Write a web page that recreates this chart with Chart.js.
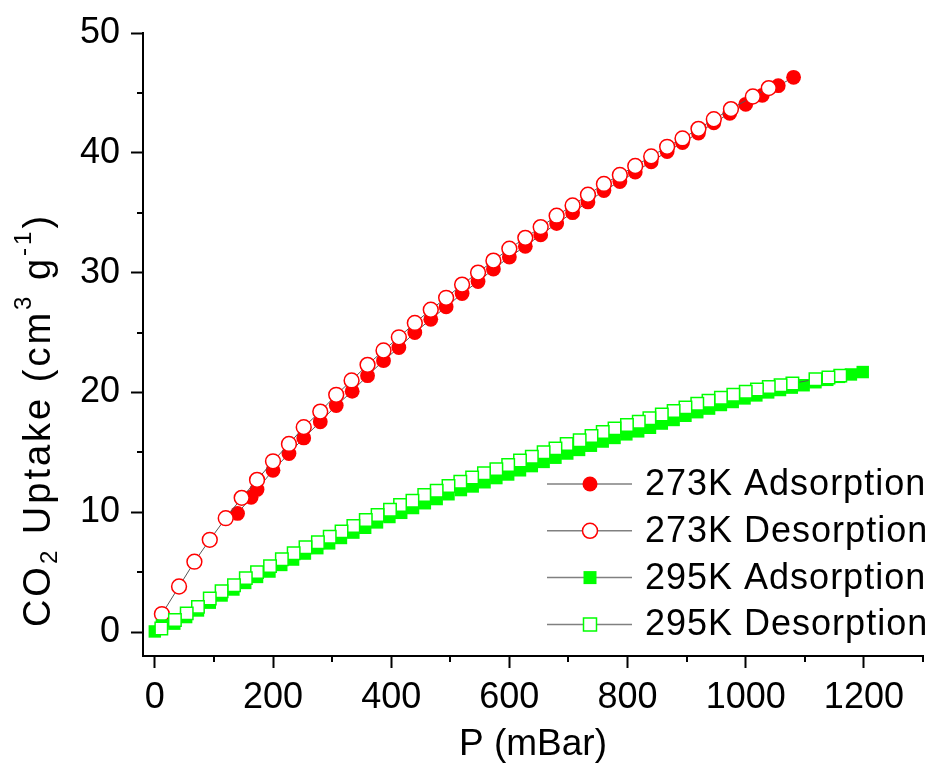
<!DOCTYPE html>
<html>
<head>
<meta charset="utf-8">
<title>CO2 uptake isotherms</title>
<script src="https://cdn.jsdelivr.net/npm/chart.js@4.4.1/dist/chart.umd.min.js"></script>
<style>
  html, body { margin: 0; padding: 0; background: #fff; }
  #wrap { width: 934px; height: 768px; position: relative; }
</style>
</head>
<body>
<div id="wrap"><canvas id="myChart"></canvas></div>
<script>
"use strict";

// 273 K branches: pressure (mBar) / uptake (cm3 g-1)
const ads273P = [140, 163, 173, 200, 227, 252, 280, 307, 334, 360, 387, 413, 440, 467, 493, 520, 547, 573, 600, 627, 653, 680, 707, 733, 760, 787, 813, 840, 867, 893, 920, 946, 973, 1000, 1028, 1055, 1081];
const ads273Q = [9.9, 11.25, 11.9, 13.5, 14.9, 16.2, 17.55, 18.9, 20.1, 21.4, 22.65, 23.75, 25.0, 26.1, 27.15, 28.25, 29.25, 30.3, 31.3, 32.2, 33.15, 34.1, 35.0, 35.9, 36.85, 37.6, 38.4, 39.25, 40.1, 40.85, 41.65, 42.5, 43.3, 44.05, 44.8, 45.6, 46.3];
const des273P = [1039, 1012, 975, 946, 920, 893, 867, 840, 813, 787, 760, 733, 707, 680, 653, 627, 600, 573, 547, 520, 493, 467, 440, 413, 387, 360, 333, 307, 280, 252, 227, 200, 173, 147, 120, 93, 67, 41, 12];
const des273Q = [45.4, 44.7, 43.65, 42.8, 42.0, 41.2, 40.5, 39.7, 38.9, 38.15, 37.4, 36.5, 35.6, 34.75, 33.8, 32.9, 32.0, 31.0, 30.0, 29.0, 27.9, 26.9, 25.8, 24.6, 23.5, 22.3, 21.0, 19.8, 18.4, 17.1, 15.7, 14.25, 12.7, 11.2, 9.5, 7.7, 5.87, 3.8, 1.5];

// 295 K branches
const ads295P = [0, 12, 33, 53, 73, 93, 113, 133, 153, 173, 194, 214, 234, 254, 275, 295, 315, 336, 356, 376, 397, 417, 437, 457, 477, 497, 518, 538, 558, 578, 598, 618, 638, 658, 678, 698, 718, 738, 758, 778, 798, 818, 838, 858, 878, 898, 918, 938, 958, 978, 998, 1018, 1038, 1058, 1078, 1098, 1118, 1138, 1158, 1178, 1198];
const ads295Q = [0.05, 0.55, 0.7, 1.25, 1.8, 2.45, 3.05, 3.55, 4.1, 4.6, 5.05, 5.6, 6.05, 6.55, 7.0, 7.4, 7.85, 8.3, 8.7, 9.15, 9.6, 9.95, 10.35, 10.75, 11.1, 11.5, 11.85, 12.15, 12.5, 12.85, 13.15, 13.5, 13.85, 14.2, 14.55, 14.9, 15.2, 15.55, 15.9, 16.2, 16.5, 16.75, 17.05, 17.4, 17.7, 18.05, 18.35, 18.65, 18.95, 19.2, 19.5, 19.75, 20.0, 20.2, 20.4, 20.6, 20.85, 21.05, 21.3, 21.5, 21.7];
const des295P = [1160, 1140, 1118, 1079, 1059, 1039, 1019, 1000, 979, 958, 937, 918, 898, 878, 858, 837, 819, 799, 778, 758, 739, 719, 697, 678, 658, 638, 618, 598, 578, 557, 537, 517, 497, 477, 456, 436, 415, 398, 377, 357, 336, 316, 296, 276, 255, 235, 215, 195, 173, 154, 134, 113, 93, 73, 54, 34, 11];
const des295Q = [21.4, 21.25, 21.1, 20.75, 20.6, 20.45, 20.25, 20.05, 19.8, 19.55, 19.3, 19.05, 18.75, 18.45, 18.15, 17.85, 17.55, 17.28, 17.0, 16.7, 16.36, 16.0, 15.7, 15.33, 15.0, 14.63, 14.32, 13.94, 13.6, 13.25, 12.9, 12.55, 12.19, 11.8, 11.44, 10.96, 10.6, 10.2, 9.77, 9.35, 8.85, 8.4, 7.95, 7.5, 7.07, 6.57, 6.07, 5.5, 5.0, 4.5, 3.9, 3.4, 2.8, 2.1, 1.56, 1.0, 0.3];

const seriesNames = ["273K Adsorption", "273K Desorption", "295K Adsorption", "295K Desorption"];
const xLabelTicks = [0, 200, 400, 600, 800, 1000, 1200];
const yLabelTicks = [0, 10, 20, 30, 40, 50];

const FONT = '"Liberation Sans", Arial, sans-serif';
const RED = "#ff0000";
const GREEN = "#00ff00";
const LINE = "#555555";

function toPoints(ps, qs) {
    return ps.map((p, i) => ({ x: p, y: qs[i] }));
}

function series(label, ps, qs, color, style, open, order) {
    return {
        label: label,
        data: toPoints(ps, qs),
        showLine: true,
        borderColor: LINE,
        borderWidth: 1,
        pointStyle: style,
        pointRadius: style === "rect" ? 8.8 : 7.4,
        pointBorderColor: color,
        pointBackgroundColor: open ? "#ffffff" : color,
        pointBorderWidth: open ? 1.5 : 0,
        order: order,
    };
}

// short minor tick marks (major ones come from the scales themselves)
const minorTicks = {
    id: "minorTicks",
    afterDraw(chart) {
        const ctx = chart.ctx;
        const xs = chart.scales.x;
        const ys = chart.scales.y;
        ctx.save();
        ctx.strokeStyle = "#000";
        ctx.lineWidth = 2;
        ctx.beginPath();
        xs.ticks.forEach(t => {
            if (xLabelTicks.includes(t.value)) return;
            const px = Math.round(xs.getPixelForValue(t.value));
            ctx.moveTo(px, xs.top);
            ctx.lineTo(px, xs.top + 6);
        });
        ys.ticks.forEach(t => {
            if (yLabelTicks.includes(t.value)) return;
            const py = Math.round(ys.getPixelForValue(t.value));
            ctx.moveTo(ys.right, py);
            ctx.lineTo(ys.right - 6, py);
        });
        ctx.stroke();
        ctx.restore();
    }
};

// rotated y title with sub/superscripts
const uptakeTitle = {
    id: "uptakeTitle",
    afterDraw(chart) {
        const ctx = chart.ctx;
        const size = 38;
        const parts = [
            ["CO", 0, 1],
            ["2", 7, 0.62],
            [" Uptake (cm", 0, 1],
            ["3", -19, 0.62],
            [" g", 0, 1],
            ["-1", -19, 0.62],
            [")", 0, 1],
        ];
        ctx.save();
        ctx.letterSpacing = "3px";
        let total = 0;
        parts.forEach(p => {
            ctx.font = Math.round(size * p[2]) + "px " + FONT;
            total += ctx.measureText(p[0]).width;
        });
        ctx.translate(50, 420);
        ctx.rotate(-Math.PI / 2);
        ctx.fillStyle = "#000";
        ctx.textBaseline = "alphabetic";
        let x = -total / 2;
        parts.forEach(p => {
            ctx.font = Math.round(size * p[2]) + "px " + FONT;
            ctx.fillText(p[0], x, p[1]);
            x += ctx.measureText(p[0]).width;
        });
        ctx.restore();
    }
};

// legend: grey line with the series marker in the middle
const lineLegend = {
    id: "lineLegend",
    afterDraw(chart) {
        const ctx = chart.ctx;
        ctx.save();
        chart.data.datasets.forEach((ds, i) => {
            const y = 484 + i * 46.8;
            ctx.strokeStyle = "#808080";
            ctx.lineWidth = 1.5;
            ctx.beginPath();
            ctx.moveTo(547, y);
            ctx.lineTo(632, y);
            ctx.stroke();

            ctx.fillStyle = ds.pointBackgroundColor;
            ctx.strokeStyle = ds.pointBorderColor;
            ctx.lineWidth = 1.5;
            ctx.beginPath();
            if (ds.pointStyle === "rect") {
                ctx.rect(590 - 6.5, y - 6.5, 13, 13);
            } else {
                ctx.arc(590, y, 7.5, 0, Math.PI * 2);
            }
            ctx.fill();
            if (ds.pointBorderWidth > 0) ctx.stroke();

            ctx.fillStyle = "#000";
            ctx.font = "36px " + FONT;
            ctx.textBaseline = "middle";
            ctx.letterSpacing = "1px";
            ctx.fillText(ds.label, 645, y + 1);
            ctx.letterSpacing = "0px";
        });
        ctx.restore();
    }
};

const config = {
    type: "scatter",
    data: {
        datasets: [
            series(seriesNames[0], ads273P, ads273Q, RED, "circle", false, 4),
            series(seriesNames[1], des273P, des273Q, RED, "circle", true, 3),
            series(seriesNames[2], ads295P, ads295Q, GREEN, "rect", false, 2),
            series(seriesNames[3], des295P, des295Q, GREEN, "rect", true, 1),
        ],
    },
    options: {
        responsive: true,
        maintainAspectRatio: false,
        animation: false,
        layout: { padding: { top: 33, right: 11, left: 0, bottom: 0 } },
        plugins: {
            legend: { display: false },
            tooltip: { enabled: false },
        },
        scales: {
            x: {
                type: "linear",
                position: "bottom",
                min: -20,
                max: 1300,
                border: { display: true, color: "#000", width: 2 },
                grid: {
                    drawOnChartArea: false,
                    tickLength: 12,
                    tickWidth: 2,
                    tickColor: c => (c.tick && xLabelTicks.includes(c.tick.value)) ? "#000" : "rgba(0,0,0,0)",
                },
                ticks: {
                    stepSize: 100,
                    includeBounds: false,
                    autoSkip: false,
                    maxRotation: 0,
                    padding: 8,
                    color: "#000",
                    font: { family: FONT, size: 36 },
                    callback: v => xLabelTicks.includes(v) ? String(v) : "",
                },
                title: {
                    display: true,
                    text: "P (mBar)",
                    color: "#000",
                    font: { family: FONT, size: 37 },
                    padding: { top: 0, bottom: 1 },
                },
                afterFit: s => { s.height = 112; },
            },
            y: {
                type: "linear",
                min: -2,
                max: 50,
                border: { display: true, color: "#000", width: 2 },
                grid: {
                    drawOnChartArea: false,
                    tickLength: 12,
                    tickWidth: 2,
                    tickColor: c => (c.tick && yLabelTicks.includes(c.tick.value)) ? "#000" : "rgba(0,0,0,0)",
                },
                ticks: {
                    stepSize: 5,
                    includeBounds: false,
                    autoSkip: false,
                    padding: 11,
                    color: "#000",
                    font: { family: FONT, size: 36 },
                    callback: v => yLabelTicks.includes(v) ? String(v) : "",
                },
                afterFit: s => { s.width = 143; },
            },
        },
    },
    plugins: [minorTicks, uptakeTitle, lineLegend],
};

const ctx = document.getElementById("myChart").getContext("2d");
new Chart(ctx, config);
</script>
</body>
</html>
